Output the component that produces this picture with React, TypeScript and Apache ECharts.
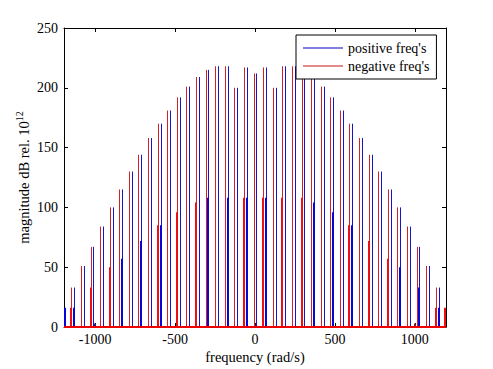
import React, { useEffect, useRef } from "react";
import * as echarts from "echarts";

const FONT = '"Liberation Serif", "Times New Roman", serif';

// Tall stem pairs (rad/s) and their magnitudes (dB rel. 10^12)
const redTallFreqs = [-1149, -1089, -1029, -969, -909, -849, -789, -729, -669, -609, -549, -489, -429, -369, -309, -249, -189, -129, -69, -9, 51, 111, 171, 231, 291, 351, 411, 471, 531, 591, 651, 711, 771, 831, 891, 951, 1011, 1071, 1131];
const blueTallFreqs = [-1131, -1071, -1011, -951, -891, -831, -771, -711, -651, -591, -531, -471, -411, -351, -291, -231, -171, -111, -51, 9, 69, 129, 189, 249, 309, 369, 429, 489, 549, 609, 669, 729, 789, 849, 909, 969, 1029, 1089, 1149];
const tallHeights = [33, 51, 67, 84, 100, 115, 130, 144, 158, 170, 181, 192, 201, 209, 215, 218, 218, 200, 217, 212, 217, 200, 218, 218, 215, 209, 201, 192, 181, 170, 158, 144, 130, 115, 100, 84, 67, 51, 33];

// Lower (heavier) stems
const redLowFreqs = [-1149, -1029, -909, -609, -489, -369, -69, 51, 171, 291, 591, 711, 831, 1131, 1190];
const redLowHeights = [16, 33, 50, 85, 96, 104, 108, 108, 108, 108, 85, 72, 57, 16, 16];
const blueLowFreqs = [-1190, -1131, -831, -711, -591, -291, -171, -51, 69, 369, 489, 609, 909, 1029, 1149];
const blueLowHeights = [16, 16, 57, 72, 85, 108, 108, 108, 108, 104, 96, 85, 50, 33, 16];

// Tiny stems
const blueTinyFreqs = [-1000, 0];
const blueTinyHeights = [3, 2];
const redTinyFreqs = [1000];
const redTinyHeights = [3];

const xTicks = [-1000, -500, 0, 500, 1000];

const BLUE_THIN = "#1414c8";
const BLUE_THICK = "#0606dc";
const RED_THIN = "#d42222";
const RED_THICK = "#ee1010";

function build(freqs: number[], heights: number[], w: number, color: string) {
  return freqs.map((f, i) => [f, heights[i], w, color]);
}

const blueData = [
  ...build(blueTallFreqs, tallHeights, 1, BLUE_THIN),
  ...build(blueLowFreqs, blueLowHeights, 2, BLUE_THICK),
  ...build(blueTinyFreqs, blueTinyHeights, 2, "#202070"),
];
const redData = [
  ...build(redTallFreqs, tallHeights, 1, RED_THIN),
  ...build(redLowFreqs, redLowHeights, 2, RED_THICK),
  ...build(redTinyFreqs, redTinyHeights, 2, "#702020"),
];

function renderStem(params: any, api: any) {
  const x = api.value(0);
  const h = api.value(1);
  const w = api.value(2);
  const idx = params.dataIndex;
  const p0 = api.coord([x, 0]);
  const p1 = api.coord([x, h]);
  const px = w === 1 ? Math.round(p0[0]) + 0.5 : Math.round(p0[0]);
  return {
    type: "line",
    shape: { x1: px, y1: p0[1], x2: px, y2: p1[1] },
    style: { stroke: params.seriesIndex === 0 ? blueData[idx][3] : redData[idx][3], lineWidth: w },
  };
}

export default function App() {
  const ref = useRef<HTMLDivElement>(null);
  useEffect(() => {
    if (!ref.current) return;
    const chart = echarts.init(ref.current, null, { renderer: "svg" });
    const axisLine = { show: true, onZero: false, lineStyle: { color: "#000", width: 1 } };
    const tick = { show: true, inside: true, length: 4, lineStyle: { color: "#000" } };
    chart.setOption({
      animation: false,
      backgroundColor: "#fff",
      grid: { left: 64, right: 47, top: 28, bottom: 41 },
      legend: {
        left: 296,
        top: 35,
        orient: "vertical",
        backgroundColor: "#fff",
        borderColor: "#000",
        borderWidth: 1,
        borderRadius: 0,
        padding: [6, 7, 6, 7],
        itemGap: 4,
        itemWidth: 40,
        itemHeight: 1,
        icon: "rect",
        itemStyle: { borderWidth: 0 },
        textStyle: { fontFamily: FONT, fontSize: 14, color: "#000" },
        data: [
          { name: "positive freq's", itemStyle: { color: "#0000c0", borderWidth: 0 } },
          { name: "negative freq's", itemStyle: { color: "#c81818", borderWidth: 0 } },
        ],
      },
      xAxis: [
        {
          type: "value",
          min: -1195,
          max: 1195,
          position: "bottom",
          axisLine,
          axisTick: { ...tick, customValues: xTicks },
          axisLabel: {
            customValues: xTicks,
            formatter: (v: number) => String(v),
            fontFamily: FONT,
            fontSize: 14,
            color: "#000",
            margin: 5,
          },
          splitLine: { show: false },
          name: "frequency (rad/s)",
          nameLocation: "middle",
          nameGap: 22,
          nameMoveOverlap: false,
          nameTextStyle: { fontFamily: FONT, fontSize: 14.5, color: "#000" },
        },
        {
          type: "value",
          min: -1195,
          max: 1195,
          position: "top",
          axisLine,
          axisTick: { ...tick, customValues: xTicks },
          axisLabel: { show: false, customValues: xTicks },
          splitLine: { show: false },
        },
      ],
      yAxis: [
        {
          type: "value",
          min: 0,
          max: 250,
          interval: 50,
          position: "left",
          axisLine,
          axisTick: tick,
          axisLabel: { fontFamily: FONT, fontSize: 14, color: "#000", margin: 6 },
          splitLine: { show: false },
          name: "magnitude dB rel. 10{sup|12}",
          nameLocation: "middle",
          nameGap: 31,
          nameMoveOverlap: false,
          nameTextStyle: {
            fontFamily: FONT,
            fontSize: 14.5,
            color: "#000",
            rich: {
              sup: { fontFamily: FONT, fontSize: 10, color: "#000", padding: [0, 0, 9, 0] },
            },
          },
        },
        {
          type: "value",
          min: 0,
          max: 250,
          interval: 50,
          position: "right",
          axisLine,
          axisTick: tick,
          axisLabel: { show: false },
          splitLine: { show: false },
        },
      ],
      series: [
        {
          name: "positive freq's",
          type: "custom",
          xAxisIndex: 0,
          yAxisIndex: 0,
          itemStyle: { color: "#0000c0" },
          renderItem: renderStem,
          encode: { x: 0, y: 1 },
          data: blueData.map((d) => [d[0], d[1], d[2]]),
          z: 2,
        },
        {
          name: "negative freq's",
          type: "custom",
          xAxisIndex: 0,
          yAxisIndex: 0,
          itemStyle: { color: "#c81818" },
          renderItem: renderStem,
          encode: { x: 0, y: 1 },
          data: redData.map((d) => [d[0], d[1], d[2]]),
          z: 3,
          markLine: {
            silent: true,
            symbol: "none",
            label: { show: false },
            lineStyle: { color: "#ee0000", width: 2, type: "solid" },
            data: [{ yAxis: 0 }],
          },
        },
      ],
    });
    return () => chart.dispose();
  }, []);
  return <div ref={ref} style={{ width: 493, height: 369, position: "absolute", left: 0, top: 0 }} />;
}
